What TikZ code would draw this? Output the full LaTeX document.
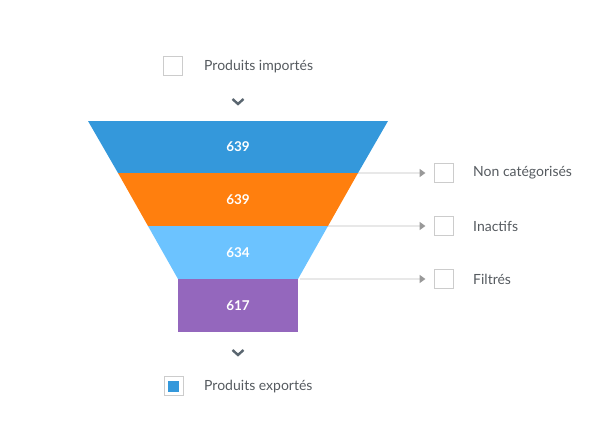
\documentclass[tikz,border=0pt]{standalone}
\usepackage{fontspec}
\setmainfont{Lato}
\usetikzlibrary{arrows.meta}

\definecolor{segblue}{HTML}{3498DB}
\definecolor{segorange}{HTML}{FF7F0E}
\definecolor{seglight}{HTML}{6CC3FF}
\definecolor{segpurple}{HTML}{9467BD}
\definecolor{guidegray}{HTML}{E8E8E8}
\definecolor{tipgray}{HTML}{999999}
\definecolor{boxgray}{HTML}{CCCCCC}
\definecolor{textgray}{HTML}{555A5F}
\definecolor{chevgray}{HTML}{5A6670}

\tikzset{
	checkbox/.style={draw=boxgray, line width=1pt, fill=white, minimum size=19pt, inner sep=0pt},
	caption/.style={text=textgray, anchor=west, inner sep=0pt},
	count/.style={text=white, inner sep=0pt, font=\fontsize{13.5}{15}\selectfont\bfseries},
	guide/.style={draw=guidegray, line width=1.6pt, shorten >=8pt},
	chevron/.style={draw=chevgray, line width=2.4pt}
}

\begin{document}
\begin{tikzpicture}[x=1pt, y=-1pt, every node/.style={font=\fontsize{14}{16}\selectfont}, >={Triangle[length=6pt, width=8pt, color=tipgray]}]
	\useasboundingbox (0,0) rectangle (597,431);
	% side outputs
	\foreach \y/\n/\t in {173/nc/Non catégorisés, 226/in/Inactifs, 279/fi/Filtrés} {
		\node[checkbox] (box-\n) at (443.5,\y) {};
		\node[caption] (cap-\n) at (473,\y) {\t};
		\coordinate (src-\n) at (300,\y);
		\draw[guide, ->] (src-\n) -- (box-\n);
	}
	% funnel
	\fill[segblue] (88,121) -- (388,121) -- (358,173) -- (118,173) -- cycle;
	\fill[segorange] (118,173) -- (358,173) -- (328,226) -- (148,226) -- cycle;
	\fill[seglight] (148,226) -- (328,226) -- (298,279) -- (178,279) -- cycle;
	\fill[segpurple] (178,279) rectangle (298,332);
	\node[count] (n1) at (238,147) {639};
	\node[count] (n2) at (238,200) {639};
	\node[count] (n3) at (238,253) {634};
	\node[count] (n4) at (238,306) {617};
	% input
	\node[checkbox] (box-in) at (172.5,66) {};
	\node[caption] (cap-in) at (204,66.5) {Produits importés};
	\draw[chevron] (232.5,99) -- (238,104) -- (243.5,99);
	% output
	\node[checkbox] (box-out) at (173.5,386) {};
	\fill[segblue] (box-out.center) ++(-5.5,-5.5) rectangle ++(11,11);
	\node[caption] (cap-out) at (204,386.5) {Produits exportés};
	\draw[chevron] (232.5,350) -- (238,355) -- (243.5,350);
\end{tikzpicture}
\end{document}
